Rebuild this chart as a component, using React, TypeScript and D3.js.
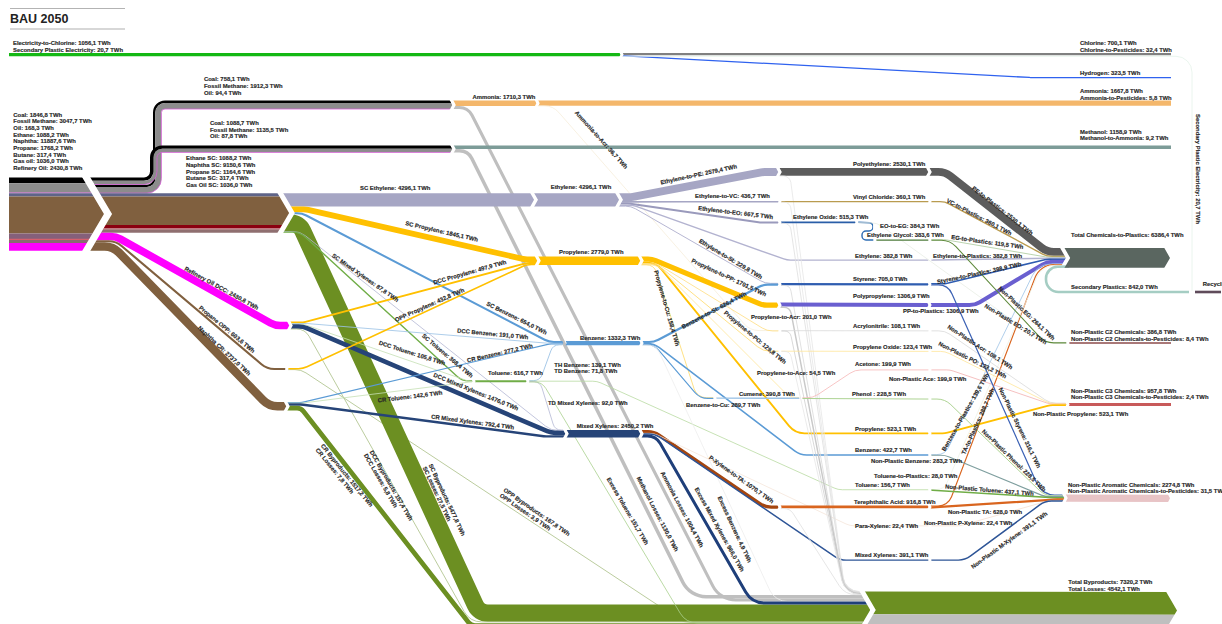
import React from 'react';
import * as d3 from 'd3';

// values in TWh. "#x" only keeps repeated names apart.
const feedstocks = [['Coal', 1846.8], ['Fossil Methane', 3047.7], ['Oil', 168.3], ['Ethane', 1088.2], ['Naphtha', 11887.6], ['Propane', 1768.2], ['Butane', 317.4], ['Gas oil', 1036.0], ['Refinery Oil', 2430.8]];
const ammoniaInputs = [['Coal#a', 758.1], ['Fossil Methane#a', 1912.3], ['Oil#a', 94.4]];
const methanolInputs = [['Coal#m', 1088.7], ['Fossil Methane#m', 1135.5], ['Oil#m', 87.8]];
const crackerFeeds = [['Ethane SC', 1088.2], ['Naphtha SC', 9150.6], ['Propane SC', 1164.6], ['Butane SC', 317.4], ['Gas Oil SC', 1036.0]];
const otherFeeds = [['Refinery Oil DCC', 2430.8], ['Propane OPP', 603.6], ['Naphtha CR', 2737.0]];
const crackerOutputs = [['SC Ethylene', 4296.1], ['SC Propylene', 1845.1], ['SC Benzene', 654.0], ['SC Mixed Xylenes', 87.8], ['SC Toluene', 368.4], ['SC Byproducts', 5477.8], ['SC Losses', 27.5]];
const dccOutputs = [['DCC Propylene', 497.9], ['DCC Benzene', 191.0], ['DCC Toluene', 105.8], ['DCC Mixed Xylenes', 1476.0], ['DCC Byproducts', 157.4], ['DCC Losses', 5.8]];
const oppOutputs = [['OPP Propylene', 432.8], ['OPP Byproducts', 167.8], ['OPP Losses', 3.9]];
const crOutputs = [['CR Benzene', 277.2], ['CR Toluene', 142.6], ['CR Mixed Xylenes', 792.4], ['CR Byproducts', 1517.2], ['CR Losses', 7.8]];
const hubs = [['Ammonia#hub', 1710.3], ['Ethylene#hub', 4296.1], ['Propylene#hub', 2779.0], ['Benzene#hub', 1332.3], ['Toluene#hub', 616.7], ['Mixed Xylenes#hub', 2450.2]];
const excess = [['TH Benzene', 139.1], ['TD Benzene', 71.8], ['TD Mixed Xylenes', 92.0], ['Excess Toluene', 151.7], ['Excess Benzene', 4.9], ['Excess Mixed Xylenes', 966.0], ['Ammonia Losses', 1004.4], ['Methanol Losses', 1130.0]];
const ethylenePaths = [['Ethylene-to-PE', 2579.4], ['Ethylene-to-VC', 436.7], ['Ethylene-to-EO', 667.5], ['Ethylene', 382.8], ['Ethylene-to-St', 229.8]];
const propylenePaths = [['Propylene-to-PP', 1701.5], ['Propylene', 523.1], ['Propylene-to-Acr', 201.0], ['Propylene-to-PO', 129.8], ['Propylene-to-Ace', 54.5], ['Propylene-to-Cu', 158.4]];
const aromaticPaths = [['Benzene-to-St', 626.4], ['Benzene', 422.7], ['Benzene-to-Cu', 289.7], ['P-Xylene-to-TA', 1070.7], ['Para-Xylene', 22.4], ['Mixed Xylenes', 391.1], ['Toluene', 156.7], ['Ammonia-to-Acr', 36.7]];
const products = [['Polyethylene', 2530.1], ['Vinyl Chloride', 360.1], ['Ethylene Oxide', 515.3], ['EO-to-EG', 384.3], ['Ethylene Glycol', 383.6], ['Styrene', 705.0], ['Polypropylene', 1306.9], ['Acrylonitrile', 108.1], ['Propylene Oxide', 123.4], ['Cumene', 390.8], ['Acetone', 199.9], ['Phenol ', 228.5], ['Terephthalic Acid', 916.8]];
const plasticPaths = [['PE-to-Plastics', 2530.1], ['VC-to-Plastics', 360.1], ['EG-to-Plastics', 119.5], ['Ethylene-to-Plastics', 382.8], ['Styrene-to-Plastics', 398.9], ['PP-to-Plastics', 1306.9], ['Benzene-to-Plastics', 139.6], ['TA-to-Plastics', 288.7], ['Toluene-to-Plastics', 28.0], ['Secondary Plastics', 842.0]];
const nonPlasticPaths = [['Non-Plastic EG', 264.1], ['Non-Plastic EO', 20.7], ['Non-Plastic Acr', 108.1], ['Non-Plastic PO', 123.2], ['Non-Plastic Ace', 199.9], ['Non-Plastic Propylene', 523.1], ['Non-Plastic Styrene', 316.1], ['Non-Plastic Phenol', 228.5], ['Non-Plastic Benzene', 283.2], ['Non-Plastic Toluene', 437.1], ['Non-Plastic TA', 628.0], ['Non-Plastic P-Xylene', 22.4], ['Non-Plastic M-Xylene', 391.1]];
const outputs = [['Electricity-to-Chlorine', 1056.1], ['Secondary Plastic Electricity', 20.7], ['Chlorine', 700.1], ['Chlorine-to-Pesticides', 32.4], ['Hydrogen', 323.5], ['Ammonia', 1667.8], ['Ammonia-to-Pesticides', 5.8], ['Methanol', 1158.9], ['Methanol-to-Ammonia', 9.2], ['Total Chemicals-to-Plastics', 6386.4], ['Non-Plastic C2 Chemicals', 386.8], ['Non-Plastic C2 Chemicals-to-Pesticides', 8.4], ['Non-Plastic C3 Chemicals', 957.8], ['Non-Plastic C3 Chemicals-to-Pesticides', 2.4], ['Non-Plastic Aromatic Chemicals', 2274.8], ['Non-Plastic Aromatic Chemicals-to-Pesticides', 31.5], ['Total Byproducts', 7320.2], ['Total Losses', 4542.1], ['Recycling', 842.0]];
// not labelled in the chart, estimated from what goes in and out of each product
const productLosses = [['PE loss', 49], ['VC loss', 77], ['EO loss', 152], ['St loss', 151], ['PP loss', 395], ['Acr loss', 130], ['PO loss', 6], ['TA loss', 154]];

const valueOf = new Map<string, number>([feedstocks, ammoniaInputs, methanolInputs, crackerFeeds, otherFeeds, crackerOutputs, dccOutputs, oppOutputs, crOutputs, hubs, excess, ethylenePaths, propylenePaths, aromaticPaths, products, plasticPaths, nonPlasticPaths, outputs, productLosses].flat() as any);

const thickness = d3.scaleLinear().domain([0, 1000]).range([0, 3.1]);
const comma = d3.formatLocale({ decimal: ',', thousands: '', grouping: [3], currency: ['', ''] }).format('.1f');
const labelOf = (k: string) => `${k.split('#')[0]}: ${comma(valueOf.get(k) as number)} TWh`;

// node layout: x of the joint, y of the top of its stack, kind of end
const nodeLayout: Record<string, [number, number, string?]> = {
  ElecStart: [10, 53, 'flat'], ElecGap: [622, 53], ChlEnd: [1170, 53, 'flat'], HydEnd: [1170, 77, 'flat'],
  Feed: [10, 177.5, 'flat'], Feed2: [108, 177.5],
  AmmIn: [454, 100.6], AmmGap: [538, 100.6], AmmEnd: [1170, 100.6, 'flat'], MetIn: [454, 145.4], MetEnd: [1170, 145.4, 'flat'],
  SC: [292, 193.2], DCC: [291, 321.7], OPP: [287, 368], CR: [288, 402],
  EthIn: [536, 193.2], EthGap: [621, 193.2], PropIn: [539, 256.5], PropGap: [642, 256.5], BenzIn: [565, 341], BenzGap: [642, 341],
  TolIn: [474, 380.3], TolGap: [528, 380.3], MxIn: [567, 430], MxGap: [642, 430],
  PeL: [780, 168], PeR: [930, 168], VcL: [780, 201], VcR: [930, 201.1], EoL: [780, 221.5], EoEnd: [857, 221.5], EgIn: [875, 239.5], EgR: [930, 239.5],
  EthR: [930, 259.5], StL: [780, 283], StR: [930, 283.2], PpL: [780, 302.5], PpR: [930, 303], AcrL: [780, 330.5], AcrR: [930, 330.7],
  PoL: [780, 351], PoR: [930, 351.2], CuIn: [715, 397.5], CuEnd: [801, 397.5], AceR: [930, 369.6], PheR: [930, 398.7], PrR: [930, 432.5],
  BzR: [930, 454.4], TlR: [930, 489.5], TaL: [780, 505.5], TaR: [930, 505.5], PxR: [930, 525.8], MxR: [930, 559.5],
  Plastics: [1068, 248], PlasticsEnd: [1170, 248, 'tip'], C2: [1068, 342.4], C2End: [1170, 342.4, 'flat'], C3: [1068, 403], C3End: [1170, 403, 'flat'],
  Aro: [1066, 494.5], AroEnd: [1170, 494.8, 'tip'], Totals: [873, 591.5], TotalEnd: [1177, 592, 'tip'],
  SecStart: [1190, 290.7, 'flat'], RecEnd: [1194, 290.7, 'flat'], RecStart: [1222, 290.7, 'flat'],
};

const BROWN = '#80603f', SLATE = '#a6a6c4', YELLOW = '#ffc000', BLUE = '#5b9bd5', PALEBLUE = '#9dc3e6', NAVY = '#264478', GREEN = '#6c8f22', OLIVE = '#a9bf85', LOSS = '#bfbfbf', LGREEN = '#a9d18e', TOL = '#70ad47', ROYAL = '#2f5db0';

// [flows, from, to, colour, route options]; "out"/"in" are the flat runs at each end
const links: any[] = [
  [['Electricity-to-Chlorine', 'Secondary Plastic Electricity'], 'ElecStart', 'ElecGap', '#14b814'],
  [['Chlorine', 'Chlorine-to-Pesticides'], 'ElecGap', 'ChlEnd', '#808080'],
  [['Hydrogen'], 'ElecGap', 'HydEnd', '#2f62ef', { out: 2, in: 140 }],
  [['Secondary Plastic Electricity'], 'ElecGap', 'SecStart', '#e4f2ea', { drop: 1192, r: 16 }],

  [['Coal'], 'Feed', 'Feed2', '#000000'], [['Fossil Methane'], 'Feed', 'Feed2', '#8c8c8c'], [['Oil'], 'Feed', 'Feed2', '#d65fd6'],
  [['Ethane'], 'Feed', 'Feed2', '#5f6488'], [['Naphtha'], 'Feed', 'Feed2', BROWN], [['Propane'], 'Feed', 'Feed2', '#85607a'],
  [['Butane'], 'Feed', 'Feed2', '#d65f6b'], [['Gas oil'], 'Feed', 'Feed2', '#8a6a72'], [['Refinery Oil'], 'Feed', 'Feed2', '#ff00ff'],

  [['Coal#m'], 'Feed2', 'MetIn', '#000000', { vx: 150, group: 'm' }], [['Fossil Methane#m'], 'Feed2', 'MetIn', '#8c8c8c', { vx: 150, group: 'm' }], [['Oil#m'], 'Feed2', 'MetIn', '#d65fd6', { vx: 150, group: 'm' }],
  [['Coal#a'], 'Feed2', 'AmmIn', '#000000', { vx: 153, group: 'a', back: true }], [['Fossil Methane#a'], 'Feed2', 'AmmIn', '#8c8c8c', { vx: 153, group: 'a', back: true }], [['Oil#a'], 'Feed2', 'AmmIn', '#d65fd6', { vx: 153, group: 'a', back: true }],
  [['Ethane SC'], 'Feed2', 'SC', '#5f6488'], [['Naphtha SC'], 'Feed2', 'SC', BROWN], [['Propane SC'], 'Feed2', 'SC', '#8a0010'], [['Butane SC'], 'Feed2', 'SC', '#c0707a'], [['Gas Oil SC'], 'Feed2', 'SC', '#8f6f70'],
  [['Refinery Oil DCC'], 'Feed2', 'DCC', '#ff00ff', { out: 8, in: 16 }],
  [['Propane OPP'], 'Feed2', 'OPP', BROWN, { out: 8, in: 20 }],
  [['Naphtha CR'], 'Feed2', 'CR', BROWN, { out: 5, in: 19 }],

  [['Ammonia#hub'], 'AmmIn', 'AmmGap', '#f4b76b'],
  [['Ammonia Losses'], 'AmmIn', 'Totals', LOSS, { out: 14, in: 153, rank: 10, r: 26 }],
  [['Ammonia', 'Ammonia-to-Pesticides'], 'AmmGap', 'AmmEnd', '#f4b76b'],
  [['Ammonia-to-Acr'], 'AmmGap', 'AcrL', '#f6eedb', { out: 15, in: 30 }],
  [['Methanol', 'Methanol-to-Ammonia'], 'MetIn', 'MetEnd', '#7d9c98'],
  [['Methanol Losses'], 'MetIn', 'Totals', LOSS, { out: 14, in: 183, rank: 9, r: 26 }],

  [['SC Ethylene'], 'SC', 'EthIn', SLATE],
  [['SC Propylene'], 'SC', 'PropIn', YELLOW, { out: 14, in: 14 }],
  [['SC Benzene'], 'SC', 'BenzIn', BLUE, { out: 10, in: 16 }],
  [['SC Byproducts', 'SC Losses'], 'SC', 'Totals', GREEN, { out: 7, in: 394, rank: 13, r: 6 }],
  [['SC Mixed Xylenes'], 'SC', 'MxIn', '#b4b8d4', { out: 8, in: 16 }],
  [['SC Toluene'], 'SC', 'TolIn', TOL, { out: 8, in: 12 }],

  [['DCC Propylene'], 'DCC', 'PropIn', YELLOW, { out: 12, in: 12 }],
  [['DCC Benzene'], 'DCC', 'BenzIn', PALEBLUE, { out: 16, in: 16 }],
  [['DCC Toluene'], 'DCC', 'TolIn', '#c5e0b4', { out: 12, in: 4 }],
  [['DCC Mixed Xylenes'], 'DCC', 'MxIn', NAVY, { out: 12, in: 16 }],
  [['DCC Byproducts', 'DCC Losses'], 'DCC', 'Totals', OLIVE, { out: 14, in: 403, rank: 14 }],
  [['OPP Propylene'], 'OPP', 'PropIn', YELLOW, { out: 16, in: 12 }],
  [['OPP Byproducts', 'OPP Losses'], 'OPP', 'Totals', OLIVE, { out: 14, in: 189, rank: 15, back: true }],
  [['CR Benzene'], 'CR', 'BenzIn', BLUE, { out: 14, in: 16 }],
  [['CR Toluene'], 'CR', 'TolIn', '#c5e0b4', { out: 14, in: 4 }],
  [['CR Mixed Xylenes'], 'CR', 'MxIn', NAVY, { out: 14, in: 22 }],
  [['CR Byproducts', 'CR Losses'], 'CR', 'Totals', GREEN, { out: 13, in: 402, rank: 17, r: 8 }],

  [['Ethylene#hub'], 'EthIn', 'EthGap', SLATE],
  [['Ethylene-to-PE'], 'EthGap', 'PeL', SLATE, { out: 10, in: 17 }],
  [['Ethylene-to-VC'], 'EthGap', 'VcL', SLATE, { out: 8, in: 95 }],
  [['Ethylene-to-EO'], 'EthGap', 'EoL', '#9a9abc', { out: 8, in: 20 }],
  [['Ethylene'], 'EthGap', 'EthR', '#b3b3d0', { out: 12, in: 143 }],
  [['Ethylene-to-St'], 'EthGap', 'StL', '#b3b3d0', { out: 10, in: 15 }],

  [['Propylene#hub'], 'PropIn', 'PropGap', YELLOW],
  [['Propylene-to-PP'], 'PropGap', 'PpL', YELLOW, { out: 10, in: 17 }],
  [['Propylene'], 'PropGap', 'PrR', YELLOW, { out: 14, in: 135 }],
  [['Propylene-to-Acr'], 'PropGap', 'AcrL', '#ffe08a', { out: 15, in: 13 }],
  [['Propylene-to-PO'], 'PropGap', 'PoL', '#ffd966', { out: 15, in: 17 }],
  [['Propylene-to-Ace'], 'PropGap', 'CuEnd', '#ffe699', { out: 15, in: 11 }],
  [['Propylene-to-Cu'], 'PropGap', 'CuIn', '#ffd966', { out: 12, in: 18 }],

  [['TH Benzene', 'TD Benzene'], 'TolGap', 'BenzIn', PALEBLUE, { out: 12, in: 12, r: 16 }],
  [['Toluene'], 'TolGap', 'TlR', '#b9dba2', { out: 69, in: 92 }],
  [['TD Mixed Xylenes'], 'TolGap', 'MxIn', '#b4b8d4', { out: 12, in: 12, rank: 1, r: 16 }],
  [['Excess Toluene'], 'TolGap', 'Totals', LGREEN, { out: 14, in: 187, rank: 16 }],
  [['Toluene#hub'], 'TolIn', 'TolGap', TOL],

  [['Benzene#hub'], 'BenzIn', 'BenzGap', BLUE],
  [['Benzene-to-St'], 'BenzGap', 'StL', BLUE, { out: 12, in: 17 }],
  [['Benzene'], 'BenzGap', 'BzR', BLUE, { out: 12, in: 130 }],
  [['Benzene-to-Cu'], 'BenzGap', 'CuIn', BLUE, { out: 12, in: 15 }],
  [['Excess Benzene'], 'BenzGap', 'Totals', '#eeeeee', { out: 14, in: 98, rank: 11 }],

  [['Mixed Xylenes#hub'], 'MxIn', 'MxGap', NAVY],
  [['P-Xylene-to-TA'], 'MxGap', 'TaL', '#a5460f', { out: 12, in: 15 }],
  [['Para-Xylene'], 'MxGap', 'PxR', '#f5e6da', { out: 12, in: 80 }],
  [['Mixed Xylenes'], 'MxGap', 'MxR', '#2e5597', { out: 13, in: 90 }],
  [['Excess Mixed Xylenes'], 'MxGap', 'Totals', '#1f3f7a', { out: 14, in: 121, rank: 12, r: 22 }],

  [['Polyethylene'], 'PeL', 'PeR', '#5c5c5c'], [['PE loss'], 'PeL', 'Totals', '#e6e6e6', { out: 10, in: 28, rank: 1 }],
  [['Vinyl Chloride'], 'VcL', 'VcR', '#b99b4f'], [['VC loss'], 'VcL', 'Totals', '#e6e6e6', { out: 10, in: 28, rank: 2 }],
  [['Ethylene Oxide'], 'EoL', 'EoEnd', '#2a5ea8'], [['EO loss'], 'EoL', 'Totals', '#dedede', { out: 10, in: 28, rank: 3 }],
  [['EO-to-EG'], 'EoEnd', 'EgIn', '#2e6db4', { via: [[873, 223], [873, 231], [862, 231], [862, 240]], r: 4 }],
  [['Non-Plastic EO'], 'EoEnd', 'C2', '#e8eee4', { out: 20, in: 25 }],
  [['Ethylene Glycol'], 'EgIn', 'EgR', '#4c7a3a'],
  [['Styrene'], 'StL', 'StR', ROYAL], [['St loss'], 'StL', 'Totals', '#d9d9d9', { out: 10, in: 28, rank: 4 }],
  [['Polypropylene'], 'PpL', 'PpR', '#6a5fd0'], [['PP loss'], 'PpL', 'Totals', '#c9c9c9', { out: 10, in: 28, rank: 5 }],
  [['Acrylonitrile'], 'AcrL', 'AcrR', '#d9d9d9'], [['Acr loss'], 'AcrL', 'Totals', '#cfcfcf', { out: 10, in: 28, rank: 6 }],
  [['Propylene Oxide'], 'PoL', 'PoR', '#ffe699'], [['PO loss'], 'PoL', 'Totals', '#e6e6e6', { out: 10, in: 28, rank: 7 }],
  [['Cumene'], 'CuIn', 'CuEnd', PALEBLUE],
  [['Acetone'], 'CuEnd', 'AceR', '#f7bcbc', { out: 12, in: 75 }],
  [['Phenol '], 'CuEnd', 'PheR', LGREEN],
  [['Terephthalic Acid'], 'TaL', 'TaR', '#d9651f'], [['TA loss'], 'TaL', 'Totals', '#e0e0e0', { out: 10, in: 28, rank: 8 }],

  [['PE-to-Plastics'], 'PeR', 'Plastics', '#5c5c5c', { out: 15, in: 21 }],
  [['VC-to-Plastics'], 'VcR', 'Plastics', '#b99b4f', { out: 15, in: 21 }],
  [['EG-to-Plastics'], 'EgR', 'Plastics', '#a9c99a', { out: 15, in: 21 }],
  [['Ethylene-to-Plastics'], 'EthR', 'Plastics', '#b3b3d0', { out: 3, in: 3 }],
  [['Styrene-to-Plastics'], 'StR', 'Plastics', ROYAL, { out: 15, in: 21 }],
  [['PP-to-Plastics'], 'PpR', 'Plastics', '#6a5fd0', { out: 45, in: 21 }],
  [['Benzene-to-Plastics'], 'BzR', 'Plastics', PALEBLUE, { out: 15, in: 30 }],
  [['TA-to-Plastics'], 'TaR', 'Plastics', '#d9651f', { out: 18, in: 28 }],
  [['Toluene-to-Plastics'], 'TlR', 'Plastics', '#eef3e8', { out: 14, in: 26 }],
  // comes in from the right, so it must not be cut by the joint it ends on
  [['Secondary Plastics'], 'SecStart', 'Plastics', '#a5cdc3', { via: [[1046, 292], [1046, 267]], r: 14, free: true }],
  [['Recycling'], 'RecStart', 'RecEnd', '#5f4b5a', { via: [] }],

  [['Non-Plastic EG'], 'EgR', 'C2', '#5f8a3c', { out: 20, in: 23 }],
  [['Non-Plastic Acr'], 'AcrR', 'C3', '#d9d9d9', { out: 15, in: 18 }],
  [['Non-Plastic PO'], 'PoR', 'C3', '#ffe699', { out: 15, in: 18 }],
  [['Non-Plastic Ace'], 'AceR', 'C3', '#f4b6b6', { out: 20, in: 18 }],
  [['Non-Plastic Propylene'], 'PrR', 'C3', YELLOW, { out: 15, in: 18 }],
  [['Non-Plastic Styrene'], 'StR', 'Aro', '#3d63b5', { out: 18, in: 24 }],
  [['Non-Plastic Phenol'], 'PheR', 'Aro', LGREEN, { out: 15, in: 21 }],
  [['Non-Plastic Benzene'], 'BzR', 'Aro', '#7f9f9f', { out: 15, in: 21 }],
  [['Non-Plastic Toluene'], 'TlR', 'Aro', TOL, { out: 2, in: 12 }],
  [['Non-Plastic TA'], 'TaR', 'Aro', '#d9651f', { out: 2, in: 8 }],
  [['Non-Plastic P-Xylene'], 'PxR', 'Aro', '#f5e0d0', { out: 30, in: 16 }],
  [['Non-Plastic M-Xylene'], 'MxR', 'Aro', '#2e5597', { out: 35, in: 21 }],

  [['Total Chemicals-to-Plastics'], 'Plastics', 'PlasticsEnd', '#5a6660'],
  [['Non-Plastic C2 Chemicals', 'Non-Plastic C2 Chemicals-to-Pesticides'], 'C2', 'C2End', '#8c4b4b'],
  [['Non-Plastic C3 Chemicals', 'Non-Plastic C3 Chemicals-to-Pesticides'], 'C3', 'C3End', '#c85a5a'],
  [['Non-Plastic Aromatic Chemicals', 'Non-Plastic Aromatic Chemicals-to-Pesticides'], 'Aro', 'AroEnd', '#e8c4c6'],
  [['Total Byproducts'], 'Totals', 'TotalEnd', GREEN],
  [['Total Losses'], 'Totals', 'TotalEnd', LOSS],
];

// [lines, x, y of first baseline, angle]
const labels: [string[], number, number, number?][] = [
  [['Electricity-to-Chlorine', 'Secondary Plastic Electricity'], 13, 45.3],
  [['Coal#a', 'Fossil Methane#a', 'Oil#a'], 204, 81.3], [['Coal#m', 'Fossil Methane#m', 'Oil#m'], 210, 125],
  [feedstocks.map(d => d[0] as string), 13.3, 116.6], [crackerFeeds.map(d => d[0] as string), 186, 160.3],
  [['SC Ethylene'], 360, 190], [['Ammonia#hub'], 472.5, 99], [['Ethylene#hub'], 550.7, 189.3], [['Propylene#hub'], 559, 254.3],
  [['Ethylene-to-VC'], 695, 198], [['Ethylene-to-PE'], 661, 184.5, -12], [['Ethylene-to-EO'], 698, 210, 7], [['Ethylene-to-St'], 698.5, 242, 31],
  [['Propylene-to-PP'], 691, 262, 25], [['Ammonia-to-Acr'], 574.5, 113, 48], [['SC Propylene'], 405, 225, 13], [['DCC Propylene'], 434, 284.5, -16],
  [['OPP Propylene'], 396, 322, -24], [['SC Mixed Xylenes'], 331.5, 256.5, 35], [['SC Benzene'], 486, 305, 26.5], [['DCC Benzene'], 457, 332.5, 5.5],
  [['CR Benzene'], 467.5, 362.5, -13], [['SC Toluene'], 421.5, 336.5, 40], [['DCC Toluene'], 378.5, 344.5, 17.6], [['CR Toluene'], 378, 402.5, -7],
  [['DCC Mixed Xylenes'], 433, 376.5, 22], [['CR Mixed Xylenes'], 431, 418.5, 7.6], [['TH Benzene', 'TD Benzene'], 554.3, 366.5],
  [['Toluene#hub'], 488, 375], [['Benzene#hub'], 580, 340], [['TD Mixed Xylenes'], 548, 404.5], [['Mixed Xylenes#hub'], 576.7, 428],
  [['Propylene-to-Cu'], 654, 271, 74], [['Benzene-to-St'], 683, 329, -28], [['Propylene-to-Acr'], 751, 319.3], [['Propylene-to-PO'], 723.5, 313.5, 40],
  [['Propylene-to-Ace'], 757, 374.6], [['Benzene-to-Cu'], 686, 407.3], [['Cumene'], 739, 395.6], [['P-Xylene-to-TA'], 708.5, 458.5, 35.5],
  [['Excess Benzene'], 717.5, 497.5, 65], [['Excess Mixed Xylenes'], 694.5, 489, 60.8], [['Ammonia Losses'], 660.5, 473, 62], [['Methanol Losses'], 636.5, 478, 62.5],
  [['Excess Toluene'], 606.5, 479, 59.7], [['OPP Byproducts', 'OPP Losses'], 503, 491, 34.7], [['SC Byproducts', 'SC Losses'], 428.5, 465, 65],
  [['CR Byproducts', 'CR Losses'], 320.5, 446, 51], [['DCC Byproducts', 'DCC Losses'], 369.5, 452, 60], [['Refinery Oil DCC'], 184, 270, 28.7],
  [['Propane OPP'], 198.5, 308.5, 39.5], [['Naphtha CR'], 197.5, 328.5, 43],
  [['Polyethylene'], 853, 166.3], [['Vinyl Chloride'], 853, 199], [['Ethylene Oxide'], 793, 219], [['EO-to-EG'], 880, 228.3], [['Ethylene Glycol'], 867, 237],
  [['EG-to-Plastics'], 951, 239, 8], [['Ethylene'], 855, 257.6], [['Ethylene-to-Plastics'], 933, 257.6], [['Styrene'], 853, 280.6], [['Styrene-to-Plastics'], 937.5, 284, -12],
  [['Polypropylene'], 853, 298.3], [['PP-to-Plastics'], 903, 313], [['PE-to-Plastics'], 971.5, 189, 38], [['VC-to-Plastics'], 946, 202, 27.6],
  [['Non-Plastic EG'], 998, 289, 43.4], [['Non-Plastic EO'], 984, 307, 31.5], [['Acrylonitrile'], 853, 328.3], [['Non-Plastic Acr'], 947, 328, 33],
  [['Propylene Oxide'], 853, 349], [['Non-Plastic PO'], 938, 345, 26.6], [['Acetone'], 855, 366.3], [['Non-Plastic Ace'], 889, 381], [['Phenol '], 852, 395.6],
  [['Non-Plastic Propylene'], 1033, 416.3], [['Propylene'], 855, 430.6], [['Benzene-to-Plastics'], 945, 451.5, -60], [['TA-to-Plastics'], 965, 455, -65.6],
  [['Non-Plastic Styrene'], 998.5, 389, 64], [['Non-Plastic Phenol'], 981.5, 432, 44], [['Non-Plastic Benzene'], 871, 463], [['Benzene'], 855, 451.6],
  [['Toluene-to-Plastics'], 874, 478], [['Toluene'], 855, 486.6], [['Non-Plastic Toluene'], 945, 488.5, 4.7], [['Terephthalic Acid'], 854, 504], [['Non-Plastic TA'], 948, 513.6],
  [['Para-Xylene'], 855, 528], [['Non-Plastic P-Xylene'], 924, 525.3], [['Mixed Xylenes'], 855, 557.3], [['Non-Plastic M-Xylene'], 973, 569, -36],
  [['Chlorine', 'Chlorine-to-Pesticides'], 1080, 45.3], [['Hydrogen'], 1080, 75], [['Ammonia', 'Ammonia-to-Pesticides'], 1080, 93], [['Methanol', 'Methanol-to-Ammonia'], 1080, 133.6],
  [['Total Chemicals-to-Plastics'], 1071, 237], [['Secondary Plastics'], 1071, 289], [['Secondary Plastic Electricity'], 1196, 114, 90], [['Recycling'], 1202.7, 286.4],
  [['Non-Plastic C2 Chemicals', 'Non-Plastic C2 Chemicals-to-Pesticides'], 1071, 334], [['Non-Plastic C3 Chemicals', 'Non-Plastic C3 Chemicals-to-Pesticides'], 1071, 392.6],
  [['Non-Plastic Aromatic Chemicals', 'Non-Plastic Aromatic Chemicals-to-Pesticides'], 1068, 486.6], [['Total Byproducts', 'Total Losses'], 1068.3, 584],
];

// rounded polyline, the corner radius shrinks when the segments are too short
function roundedPath(pts: number[][], radii: number[]) {
  const p = d3.path();
  p.moveTo(pts[0][0], pts[0][1]);
  for (let i = 1; i < pts.length - 1; i++) {
    const [a, b, c] = [pts[i - 1], pts[i], pts[i + 1]];
    const la = Math.hypot(b[0] - a[0], b[1] - a[1]), lb = Math.hypot(c[0] - b[0], c[1] - b[1]);
    const cos = ((b[0] - a[0]) * (c[0] - b[0]) + (b[1] - a[1]) * (c[1] - b[1])) / (la * lb);
    const turn = Math.acos(Math.min(1, Math.max(-1, cos)));
    if (turn < 0.002) { p.lineTo(b[0], b[1]); continue; }
    const r = Math.min(radii[i - 1], Math.min(la, lb) * 0.5 / Math.tan(turn / 2));
    p.arcTo(b[0], b[1], c[0], c[1], r);
  }
  const last = pts[pts.length - 1];
  p.lineTo(last[0], last[1]);
  return p.toString();
}

function buildLayout() {
  const nodes: Record<string, any> = {};
  Object.entries(nodeLayout).forEach(([id, [x, y, kind]]) => {
    nodes[id] = { id, x, y, kind, hIn: 0, hOut: 0 };
  });
  const built = links.map(([keys, from, to, color, opts = {}], i) => {
    const value = d3.sum(keys as string[], k => valueOf.get(k) as number);
    return { keys, from, to, color, opts, value, w: thickness(value), rank: opts.rank ?? 1000 + i };
  });
  // stack both ends of every link from the top of its node
  built.forEach(l => { const n = nodes[l.from]; l.top0 = n.y + n.hOut; n.hOut += l.w; });
  [...built].sort((a, b) => a.rank - b.rank).forEach(l => { const n = nodes[l.to]; l.top1 = n.y + n.hIn; n.hIn += l.w; });
  Object.values(nodes).forEach((n: any) => {
    n.h = Math.max(n.hIn, n.hOut);
    n.d = n.kind === 'flat' ? 0 : n.h * 0.3;
    n.g = n.kind ? 0 : (3 + n.h * 0.07) / 2;
  });
  const groupTop: Record<string, number> = {};
  built.forEach(l => {
    const s = nodes[l.from], t = nodes[l.to], o = l.opts;
    const y0 = l.top0 + l.w / 2, y1 = l.top1 + l.w / 2;
    const x0 = s.x - s.d - 1, x1 = t.x + 1;
    let pts: number[][], radii: number[];
    const base = Math.max(o.r ?? 20, l.w * 0.8);
    if (o.via) {
      pts = [[x0, y0], ...o.via, [x1, y1]];
      radii = pts.map(() => o.r ?? 8);
    } else if (o.drop) {
      pts = [[x0, y0], [o.drop, y0], [o.drop, t.y]];
      radii = [o.r];
    } else if (o.vx) {
      if (groupTop[o.group] === undefined) groupTop[o.group] = l.top0;
      const off = l.top0 - groupTop[o.group];
      const vx = o.vx + off + l.w / 2;
      pts = [[x0, y0], [vx, y0], [vx, y1], [x1, y1]];
      radii = [6 + off + l.w / 2, 12 - off - l.w / 2 > 2 ? 12 - off - l.w / 2 : 2];
    } else if (o.out !== undefined) {
      pts = [[x0, y0], [s.x + o.out, y0], [t.x - o.in, y1], [x1, y1]];
      radii = [base, base];
    } else {
      pts = [[x0, y0], [x1, y1]];
      radii = [];
    }
    l.d = roundedPath(pts, radii);
  });
  return { nodes, built };
}

const FAR = 5000;
// region left and right of a node's chevron joint
const leftClip = (n: any) => [[-FAR, -FAR], [n.x - n.d - n.g, -FAR], [n.x - n.d - n.g, n.y - 0.5], [n.x - n.g, n.y + n.h / 2], [n.x - n.d - n.g, n.y + n.h + 0.5], [n.x - n.d - n.g, FAR], [-FAR, FAR]];
const rightClip = (n: any) => [[FAR, -FAR], [n.x - n.d + n.g, -FAR], [n.x - n.d + n.g, n.y - 0.5], [n.x + n.g, n.y + n.h / 2], [n.x - n.d + n.g, n.y + n.h + 0.5], [n.x - n.d + n.g, FAR], [FAR, FAR]];
const ptsAttr = (pts: number[][]) => pts.map(p => p.join(',')).join(' ');

export default function App() {
  const { nodes, built } = buildLayout();
  const clipped = Object.values(nodes).filter((n: any) => n.kind !== 'flat') as any[];
  const order = [...built.filter(l => l.opts.back), ...built.filter(l => !l.opts.back)];
  // the big green band sits under the thin lines that cross it
  const first = order.filter(l => l.keys[0] === 'SC Byproducts' || l.opts.back);
  const rest = order.filter(l => !first.includes(l));
  return (
    <svg width={1222} height={624} viewBox="0 0 1222 624" style={{ position: 'absolute', left: 0, top: 0, display: 'block' }} fontFamily="'Liberation Sans', Arial, sans-serif">
      <defs>
        {clipped.map(n => (
          <React.Fragment key={n.id}>
            <clipPath id={`l-${n.id}`}><polygon points={ptsAttr(leftClip(n))} /></clipPath>
            <clipPath id={`r-${n.id}`}><polygon points={ptsAttr(rightClip(n))} /></clipPath>
          </React.Fragment>
        ))}
      </defs>
      <line x1={10} x2={125} y1={8.5} y2={8.5} stroke="#a0a0a0" strokeWidth={0.8} />
      <line x1={10} x2={125} y1={29} y2={29} stroke="#b0b0b0" strokeWidth={1.2} />
      <text x={10} y={22.5} fontSize={12.5} fontWeight={700} fill="#222222">BAU 2050</text>

      {[...first, ...rest].map((l, i) => {
        const s = nodes[l.from], t = nodes[l.to];
        return (
          <g key={i} clipPath={t.kind === 'flat' || l.opts.free ? undefined : `url(#l-${t.id})`}>
            <path d={l.d} fill="none" stroke={l.color} strokeWidth={l.w < 2 ? Math.max(l.w + 0.25, 0.8) : l.w}
              clipPath={s.kind === 'flat' ? undefined : `url(#r-${s.id})`} />
          </g>
        );
      })}

      <g fontSize={5.9} fontWeight={700} fill="#262626" stroke="#262626" strokeWidth={0.14}>
        {labels.map(([lines, x, y, angle = 0], i) => (
          <g key={i} transform={`translate(${x},${y}) rotate(${angle})`}>
            {lines.map((k, j) => <text key={k} x={0} y={j * 6.67}>{labelOf(k)}</text>)}
          </g>
        ))}
      </g>
    </svg>
  );
}
